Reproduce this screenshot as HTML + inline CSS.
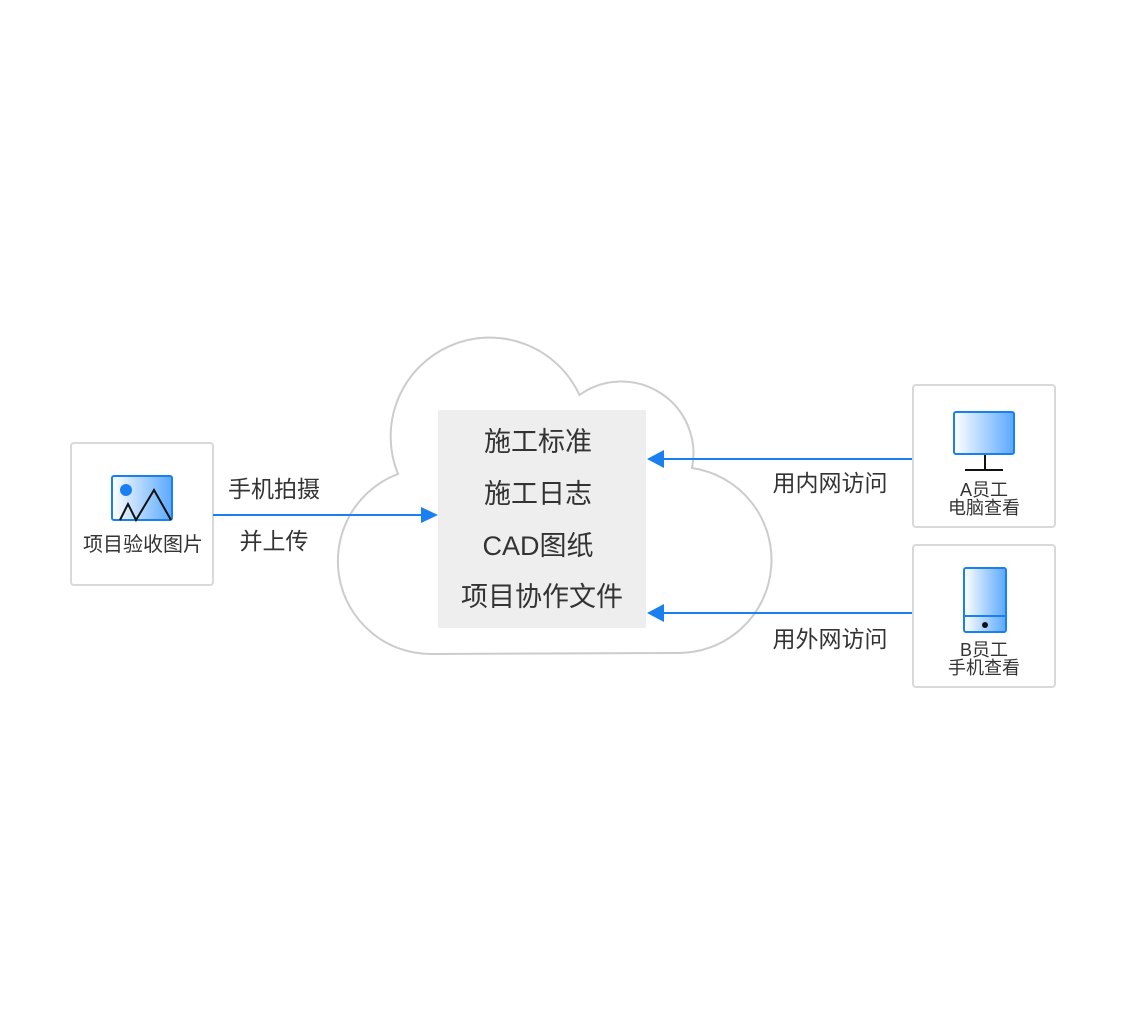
<!DOCTYPE html>
<html><head><meta charset="utf-8"><style>
html,body{margin:0;padding:0;background:#fff;}
svg{display:block;}
text{font-family:"Liberation Sans","Noto Sans CJK SC",sans-serif;fill:#333;}
</style></head><body>
<svg width="1128" height="1024" viewBox="0 0 1128 1024" xmlns="http://www.w3.org/2000/svg">
<defs>
<linearGradient id="g" x1="0" y1="0" x2="1" y2="0"><stop offset="0" stop-color="#fff"/><stop offset="1" stop-color="#5aa8ff"/></linearGradient>
</defs>
<path d="M431 654 A93 93 0 0 1 398 474 A99 99 0 0 1 579.5 395 A72 72 0 0 1 692 468 A93 93 0 0 1 677 653 Z" fill="#fff" stroke="#ccc" stroke-width="2"/>
<rect x="438" y="410" width="208" height="218" rx="2" fill="#eee"/>
<g font-size="27" text-anchor="middle">
<text x="538" y="451">施工标准</text>
<text x="538" y="503">施工日志</text>
<text x="538" y="555">CAD图纸</text>
<text x="542" y="606">项目协作文件</text>
</g>
<rect x="71" y="443" width="142" height="142" rx="3" fill="#fff" stroke="#d9d9d9" stroke-width="2"/>
<rect x="112" y="476" width="60" height="44" rx="2" fill="url(#g)" stroke="#1a7ff0" stroke-width="2"/>
<circle cx="126" cy="490" r="6" fill="#1a7ff0"/>
<polyline points="120,520 128,504 136,520 154,490 171,520" fill="none" stroke="#111" stroke-width="2"/>
<text x="143" y="551" font-size="20" text-anchor="middle">项目验收图片</text>
<line x1="213" y1="515" x2="425" y2="515" stroke="#1a7ff0" stroke-width="2"/>
<polygon points="421,507 438,515 421,523" fill="#1a7ff0"/>
<text x="274" y="497" font-size="23" text-anchor="middle">手机拍摄</text>
<text x="274" y="549" font-size="23" text-anchor="middle">并上传</text>
<line x1="660" y1="459" x2="912" y2="459" stroke="#1a7ff0" stroke-width="2"/>
<polygon points="664,450 647,459 664,468" fill="#1a7ff0"/>
<line x1="660" y1="613" x2="912" y2="613" stroke="#1a7ff0" stroke-width="2"/>
<polygon points="664,604 647,613 664,622" fill="#1a7ff0"/>
<text x="830" y="491" font-size="23" text-anchor="middle">用内网访问</text>
<text x="830" y="647" font-size="23" text-anchor="middle">用外网访问</text>
<rect x="913" y="385" width="142" height="142" rx="3" fill="#fff" stroke="#d9d9d9" stroke-width="2"/>
<rect x="954" y="412" width="60" height="42" rx="2" fill="url(#g)" stroke="#1a7ff0" stroke-width="2"/>
<line x1="985" y1="455" x2="985" y2="470" stroke="#111" stroke-width="2"/>
<line x1="965" y1="470" x2="1003" y2="470" stroke="#111" stroke-width="2"/>
<text x="984" y="496" font-size="18" text-anchor="middle">A员工</text>
<text x="984" y="514" font-size="18" text-anchor="middle">电脑查看</text>
<rect x="913" y="545" width="142" height="142" rx="3" fill="#fff" stroke="#d9d9d9" stroke-width="2"/>
<rect x="964" y="568" width="42" height="64" rx="2" fill="url(#g)" stroke="#1a7ff0" stroke-width="2"/>
<line x1="964" y1="616" x2="1006" y2="616" stroke="#1a7ff0" stroke-width="2"/>
<circle cx="985" cy="625" r="3" fill="#111"/>
<text x="984" y="656" font-size="18" text-anchor="middle">B员工</text>
<text x="984" y="674" font-size="18" text-anchor="middle">手机查看</text>
</svg>
</body></html>
